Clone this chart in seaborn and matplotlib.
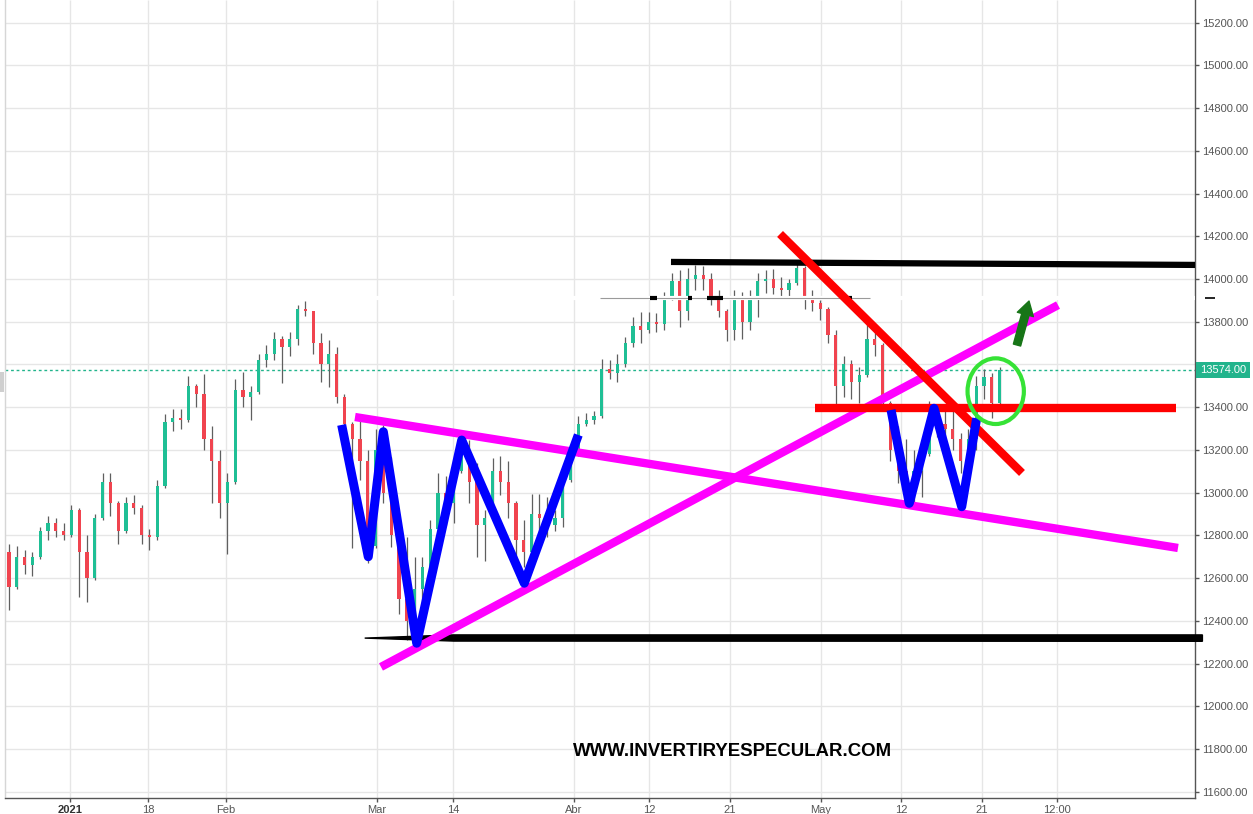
import numpy as np
import pandas as pd
import matplotlib
matplotlib.use("Agg")
import matplotlib.pyplot as plt
import matplotlib.transforms as mtransforms
from matplotlib.patches import Ellipse, FancyArrowPatch, Rectangle
import seaborn as sns

# ---------------- data (daily sessions) ----------------
opens = [12720, 12560, 12700, 12660, 12700, 12820, 12860, 12820, 12800, 12920,
         12720, 12600, 12880, 13050, 12950, 12820, 12950, 12930, 12800, 12790,
         13030, 13330, 13350, 13340, 13500, 13460, 13250, 13150, 12950, 13050,
         13480, 13450, 13470, 13620, 13650, 13720, 13680, 13720, 13860, 13850,
         13700, 13600, 13650, 13450, 13320, 13250, 13150, 12750, 13200, 13000,
         12800, 12500, 12400, 12550, 12650, 12830, 13000, 12950, 13100, 13200,
         13050, 12850, 12880, 13100, 13050, 12950, 12780, 12720, 12900, 12880,
         12850, 12880, 13060, 13180, 13320, 13340, 13360, 13580, 13560, 13600,
         13700, 13780, 13760, 13800, 13790, 13920, 13990, 13850, 14000, 14020,
         14000, 13900, 13850, 13760, 13900, 13800, 13900, 13990, 14000, 13960,
         13950, 13980, 14050, 13900, 13890, 13860, 13740, 13500, 13600, 13520,
         13550, 13720, 13690, 13420, 13200, 13100, 13050, 13100, 13180, 13350,
         13320, 13300, 13250, 13150, 13250, 13500, 13540, 13420]
highs = [12760, 12750, 12730, 12720, 12840, 12890, 12880, 12860, 12940, 12930,
         12800, 12900, 13090, 13090, 12960, 12980, 12990, 12940, 12830, 13060,
         13370, 13390, 13390, 13545, 13510, 13555, 13310, 13200, 13090, 13530,
         13565, 13500, 13650, 13690, 13750, 13735, 13750, 13880, 13895, 13850,
         13745, 13715, 13680, 13460, 13330, 13340, 13200, 13300, 13315, 13165,
         12810, 12790, 12700, 12700, 12870, 13090, 13080, 13150, 13265, 13245,
         13140, 12920, 13160, 13170, 13150, 12960, 12870, 12995, 12995, 12980,
         12920, 13090, 13200, 13360, 13375, 13380, 13625, 13620, 13650, 13730,
         13820, 13845, 13845, 13840, 13940, 14030, 14040, 14050, 14065, 14060,
         14030, 13950, 13860, 13950, 13940, 13950, 14030, 14040, 14045, 14010,
         14000, 14075, 14060, 13950, 13900, 13870, 13760, 13640, 13620, 13590,
         13815, 13780, 13700, 13430, 13310, 13250, 13200, 13220, 13430, 13410,
         13390, 13380, 13280, 13300, 13545, 13580, 13560, 13590]
lows = [12450, 12550, 12620, 12610, 12690, 12780, 12790, 12780, 12790, 12510,
        12490, 12590, 12870, 12890, 12760, 12810, 12900, 12760, 12730, 12780,
        13020, 13290, 13300, 13330, 13400, 13200, 12950, 12880, 12715, 13040,
        13400, 13340, 13460, 13590, 13620, 13515, 13640, 13690, 13825, 13650,
        13520, 13495, 13420, 13290, 12740, 13060, 12670, 12740, 12950, 12745,
        12430, 12310, 12340, 12380, 12640, 12760, 12850, 12860, 13090, 12950,
        12700, 12680, 12870, 12990, 12880, 12700, 12650, 12700, 12810, 12790,
        12820, 12840, 13050, 13170, 13310, 13320, 13350, 13530, 13520, 13590,
        13680, 13700, 13745, 13750, 13760, 13900, 13775, 13810, 13950, 13950,
        13880, 13820, 13710, 13715, 13720, 13760, 13820, 13935, 13930, 13920,
        13920, 13970, 13860, 13850, 13810, 13700, 13400, 13450, 13440, 13420,
        13540, 13640, 13380, 13150, 13045, 12960, 12940, 12980, 13170, 13260,
        13250, 13200, 13090, 13130, 13200, 13440, 13350, 13410]
closes = [12560, 12700, 12660, 12700, 12820, 12860, 12820, 12800, 12920, 12720,
          12600, 12880, 13050, 12950, 12820, 12950, 12930, 12800, 12790, 13030,
          13330, 13350, 13340, 13500, 13460, 13250, 13150, 12950, 13050, 13480,
          13450, 13470, 13620, 13650, 13720, 13680, 13720, 13860, 13850, 13700,
          13600, 13650, 13450, 13320, 13250, 13150, 12750, 13200, 13000, 12800,
          12500, 12400, 12550, 12650, 12830, 13000, 12950, 13100, 13200, 13050,
          12850, 12880, 13100, 13050, 12950, 12780, 12720, 12900, 12880, 12850,
          12880, 13060, 13180, 13320, 13340, 13360, 13580, 13560, 13600, 13700,
          13780, 13760, 13800, 13790, 13920, 13990, 13850, 14000, 14020, 14000,
          13900, 13850, 13760, 13900, 13800, 13900, 13990, 14000, 13960, 13950,
          13980, 14050, 13900, 13890, 13860, 13740, 13500, 13600, 13520, 13550,
          13720, 13690, 13420, 13200, 13100, 13050, 13100, 13180, 13350, 13320,
          13300, 13250, 13150, 13250, 13500, 13540, 13420, 13574]
last_price = 13574

x_tick_pos = [7.82, 17.82, 27.82, 47.18, 56.92, 72.44, 82.05, 92.44, 104.10, 114.36, 124.74, 134.36]
x_tick_labels = ["2021", "18", "Feb", "Mar", "14", "Abr", "12", "21", "May", "12", "21", "12:00"]
y_ticks = list(range(11600, 15201, 200))

# drawing annotations (session index, price)
w_left_x = [42.65, 46.06, 47.99, 52.27, 58.04, 66.06, 72.99]
w_left_y = [13317, 12700, 13285, 12295, 13246, 12576, 13270]
w_right_x = [113.08, 115.42, 118.59, 122.14, 124.06]
w_right_y = [13387, 12950, 13395, 12934, 13348]
mag_down_x, mag_down_y = [44.36, 149.87], [13354, 12741]
mag_up_x, mag_up_y = [47.69, 134.49], [12184, 13878]
red_h_x, red_h_y = [103.33, 149.62], [13396, 13396]
red_d_x, red_d_y = [98.85, 129.87], [14211, 13092]
blk_top_x, blk_top_y = [84.87, 152.3], [14080, 14066]
blk_low_x = [45.6, 57.0, 153.0, 153.0, 57.0]
blk_low_y = [12319, 12334, 12334, 12304, 12305]

UP = "#1fbf95"
DOWN = "#f0444f"
TEAL = "#22b48c"

sns.set_theme(style="white")
plt.rcParams['font.family'] = ['Liberation Sans', 'DejaVu Sans']
plt.rcParams['lines.solid_capstyle'] = 'butt'
plt.rcParams['lines.solid_joinstyle'] = 'round'

fig = plt.figure(figsize=(12.53, 8.14), dpi=100)
fig.patch.set_facecolor("white")
ax = fig.add_axes([5 / 1253, 16 / 814, 1190 / 1253, 798 / 814])
ax.set_facecolor("white")

df = pd.DataFrame({"s": np.arange(len(closes)), "open": opens, "high": highs,
                   "low": lows, "close": closes})
up = df["close"] >= df["open"]
ax.vlines(df["s"], df["low"], df["high"], color="#5f5f5f", lw=0.9, zorder=2)
body_h = (df["close"] - df["open"]).abs().clip(lower=8)
ax.bar(df["s"], body_h, bottom=np.minimum(df["open"], df["close"]), width=0.4,
       color=np.where(up, UP, DOWN), linewidth=0, zorder=3)

# current price dotted line
ax.axhline(last_price, color=TEAL, lw=1, ls=(0, (2, 2)), zorder=1.5)

# erased horizontal band
ax.plot([28.3, 152.05], [13909, 13909], color="white", lw=3, zorder=4)
ax.plot([75.8, 110.4], [13912, 13912], color="#9a9a9a", lw=0.8, zorder=4.1)
for a, b in [(82.2, 83.1), (87.0, 87.6), (89.5, 91.5), (106.9, 108.1)]:
    ax.plot([a, b], [13910, 13910], color="black", lw=3, zorder=4.2)

# annotation lines via seaborn
ax.fill(blk_low_x, blk_low_y, color="black", zorder=5, clip_on=False)
sns.lineplot(x=blk_top_x, y=blk_top_y, color="black", linewidth=4.5, sort=False,
             estimator=None, ax=ax, zorder=5)
sns.lineplot(x=mag_down_x, y=mag_down_y, color="#ff00ff", linewidth=6, sort=False,
             estimator=None, ax=ax, zorder=6)
sns.lineplot(x=mag_up_x, y=mag_up_y, color="#ff00ff", linewidth=6, sort=False,
             estimator=None, ax=ax, zorder=6)
sns.lineplot(x=red_h_x, y=red_h_y, color="#ff0000", linewidth=6, sort=False,
             estimator=None, ax=ax, zorder=7)
sns.lineplot(x=red_d_x, y=red_d_y, color="#ff0000", linewidth=6, sort=False,
             estimator=None, ax=ax, zorder=7)
sns.lineplot(x=w_left_x, y=w_left_y, color="#0000ff", linewidth=6.5, sort=False,
             estimator=None, ax=ax, zorder=8)
sns.lineplot(x=w_right_x, y=w_right_y, color="#0000ff", linewidth=6.5, sort=False,
             estimator=None, ax=ax, zorder=8)

ax.add_patch(Ellipse((126.5, 13475), width=7.22, height=307.6, fill=False,
                     edgecolor="#36e236", lw=3, zorder=9))
ax.add_patch(FancyArrowPatch(posA=(129.23, 13691), posB=(130.77, 13897),
                             arrowstyle="simple,head_length=0.5,head_width=0.6,tail_width=0.27",
                             mutation_scale=20, color="#177517", shrinkA=0, shrinkB=0, zorder=9))

ax.text(92.7, 11786, "WWW.INVERTIRYESPECULAR.COM", ha="center", va="center",
        fontsize=13.4, fontweight="bold", color="black", zorder=10)

# axes styling
ax.set_xlim(-0.513, 152.05)
ax.set_ylim(11570.4, 15306.3)
ax.set_xticks(x_tick_pos)
ax.set_xticklabels(x_tick_labels)
ax.set_yticks(y_ticks)
# the 13600 label sits under the price box in the reference
ax.set_yticklabels(["" if v == 13600 else f"{v:.2f}" for v in y_ticks])
ax.yaxis.tick_right()
ax.grid(True, color="#e6e6e6", lw=1)
ax.set_axisbelow(True)
ax.set_xlabel("")
ax.set_ylabel("")
ax.tick_params(axis="x", bottom=True, length=3, width=1, color="#555555",
               labelsize=8, labelcolor="#555555", pad=2)
ax.tick_params(axis="y", right=True, left=False, length=3, width=1, color="#555555",
               labelsize=8, labelcolor="#555555", pad=2)
lbl0 = ax.get_xticklabels()[0]
lbl0.set_fontweight("bold")
lbl0.set_color("#333333")

ax.spines["top"].set_visible(False)
ax.spines["left"].set_color("#d6d6d6")
ax.spines["right"].set_color("#555555")
ax.spines["bottom"].set_color("#555555")
for side in ["left", "right", "bottom"]:
    ax.spines[side].set_linewidth(1)

# price label box on the right axis
trans = mtransforms.blended_transform_factory(ax.transAxes, ax.transData)
ax.add_patch(Rectangle((1.0008, last_price - 37), 0.0454, 74, transform=trans,
                       facecolor=TEAL, edgecolor="none", clip_on=False, zorder=20))
ax.text(1.0235, last_price, f"{last_price:.2f}", transform=trans, ha="center",
        va="center", fontsize=8, color="white", zorder=21, clip_on=False)
# small marks outside the axes
ax.plot([1.008, 1.017], [13912, 13912], transform=trans, color="black", lw=1.2,
        clip_on=False, zorder=20)
fig.patches.append(Rectangle((0, 1 - 392 / 814), 4 / 1253, 20 / 814,
                             transform=fig.transFigure, facecolor="#cfcfcf",
                             edgecolor="none"))

fig.savefig("out.png", dpi=100, facecolor="white")
